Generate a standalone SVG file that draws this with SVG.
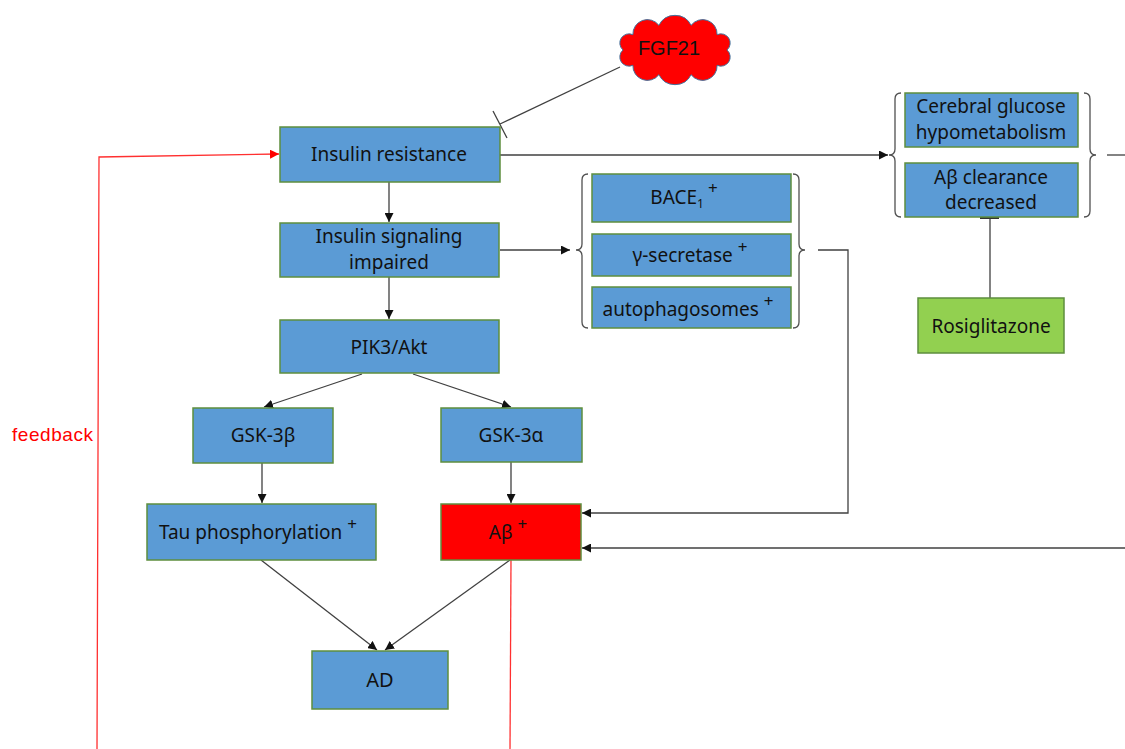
<svg xmlns="http://www.w3.org/2000/svg" width="1125" height="749" viewBox="0 0 1125 749">
<defs>
<style>
.box{fill:#5B9BD5;stroke:#5E8E3E;stroke-width:1.5}
.red{fill:#FF0000;stroke:#5E8E3E;stroke-width:1.5}
.green{fill:#92D050;stroke:#5E8E3E;stroke-width:1.5}
.t{font-family:"Noto Sans","Open Sans","DejaVu Sans",sans-serif;font-size:19px;fill:#111;text-anchor:middle}
.sup{font-size:17px}
.sub{font-size:12px}
.ln{fill:none;stroke:#404040;stroke-width:1.3}
.rl{fill:none;stroke:#FF3030;stroke-width:1.3}
.br{fill:none;stroke:#505050;stroke-width:1.3}
</style>
<marker id="ah" viewBox="0 0 10 10" refX="10" refY="5" markerWidth="9" markerHeight="9" markerUnits="userSpaceOnUse" orient="auto">
<path d="M0,0 L10,5 L0,10 z" fill="#111"/>
</marker>
<marker id="ahr" viewBox="0 0 10 10" refX="10" refY="5" markerWidth="9" markerHeight="9" markerUnits="userSpaceOnUse" orient="auto">
<path d="M0,0 L10,5 L0,10 z" fill="#FF0000"/>
</marker>
</defs>
<rect width="1125" height="749" fill="#FFFFFF"/>

<g id="connectors">
<line class="ln" x1="389" y1="182" x2="389" y2="222" marker-end="url(#ah)"/>
<line class="ln" x1="389" y1="277" x2="389" y2="319" marker-end="url(#ah)"/>
<line class="ln" x1="362" y1="374" x2="264" y2="407" marker-end="url(#ah)"/>
<line class="ln" x1="413" y1="374" x2="511" y2="407" marker-end="url(#ah)"/>
<line class="ln" x1="262" y1="463" x2="262" y2="503" marker-end="url(#ah)"/>
<line class="ln" x1="511" y1="462" x2="511" y2="503" marker-end="url(#ah)"/>
<line class="ln" x1="261" y1="560" x2="377" y2="650" marker-end="url(#ah)"/>
<line class="ln" x1="510" y1="560" x2="385" y2="650" marker-end="url(#ah)"/>
<line class="ln" x1="500" y1="155" x2="888" y2="155" marker-end="url(#ah)"/>
<line class="ln" x1="500" y1="250" x2="570" y2="250" marker-end="url(#ah)"/>
<polyline class="ln" points="818,250 848,250 848,513 582,513" marker-end="url(#ah)"/>
<line class="ln" x1="1125" y1="548" x2="582" y2="548" marker-end="url(#ah)"/>
<line class="ln" x1="1107" y1="155" x2="1125" y2="155"/>
<line class="ln" x1="620" y1="67" x2="500" y2="124"/>
<line class="ln" x1="493" y1="111" x2="507" y2="138"/>
<line class="ln" x1="990" y1="217" x2="990" y2="298"/>
<line x1="980" y1="218" x2="999" y2="218" stroke="#333" stroke-width="2"/>
<polyline class="rl" points="97,749 99,157 279,154" marker-end="url(#ahr)"/>
<line class="rl" x1="511" y1="560" x2="510" y2="749"/>
<path class="br" d="M588,174 Q582,174 582,180 L582,244 Q582,250 576,250 Q582,250 582,256 L582,322 Q582,328 588,328"/>
<path class="br" d="M793,174 Q799,174 799,180 L799,244 Q799,250 805,250 Q799,250 799,256 L799,322 Q799,328 793,328"/>
<path class="br" d="M901,93 Q895,93 895,99 L895,149 Q895,155 889,155 Q895,155 895,161 L895,211 Q895,217 901,217"/>
<path class="br" d="M1084,93 Q1090,93 1090,99 L1090,149 Q1090,155 1096,155 Q1090,155 1090,161 L1090,211 Q1090,217 1084,217"/>
</g>

<g id="fgf21">
<path d="M727,50 A9.2,9.2 0 0 1 717.1,65.3 A14.5,14.5 0 0 1 691.1,74.7 A18,18 0 0 1 658.9,74.7 A14.5,14.5 0 0 1 632.9,65.3 A9.2,9.2 0 0 1 623,50 A9.2,9.2 0 0 1 632.9,34.7 A14.5,14.5 0 0 1 658.9,25.3 A18,18 0 0 1 691.1,25.3 A14.5,14.5 0 0 1 717.1,34.7 A9.2,9.2 0 0 1 727,50 Z" fill="#FF0000" stroke="#41719C" stroke-width="1"/>
<text x="669" y="55" font-family="'Liberation Sans',Arial,sans-serif" font-size="20" text-anchor="middle" fill="#111">FGF21</text>
</g>

<g id="insulin-resistance">
<rect class="box" x="280" y="127" width="220" height="55"/>
<text class="t" x="389" y="161">Insulin resistance</text>
</g>
<g id="insulin-signaling">
<rect class="box" x="280" y="223" width="219" height="54"/>
<text class="t" x="389" y="243">Insulin signaling</text>
<text class="t" x="389" y="269">impaired</text>
</g>
<g id="pik3akt">
<rect class="box" x="280" y="320" width="219" height="53"/>
<text class="t" x="389" y="354">PIK3/Akt</text>
</g>
<g id="gsk3b">
<rect class="box" x="193" y="408" width="140" height="55"/>
<text class="t" x="263" y="442">GSK-3β</text>
</g>
<g id="gsk3a">
<rect class="box" x="441" y="408" width="141" height="54"/>
<text class="t" x="511" y="442">GSK-3α</text>
</g>
<g id="tau">
<rect class="box" x="147" y="504" width="229" height="56"/>
<text class="t" x="258" y="539">Tau phosphorylation<tspan class="sup" dx="5" dy="-9">+</tspan></text>
</g>
<g id="abeta">
<rect class="red" x="441" y="504" width="140" height="56"/>
<text class="t" x="508" y="539">Aβ<tspan class="sup" dx="5" dy="-9">+</tspan></text>
</g>
<g id="ad">
<rect class="box" x="312" y="651" width="136" height="58"/>
<text class="t" x="380" y="687" style="font-size:20px">AD</text>
</g>
<g id="bace1">
<rect class="box" x="592" y="174" width="199" height="48"/>
<text class="t" x="684" y="204">BACE<tspan class="sub" dy="4">1</tspan><tspan class="sup" dx="4" dy="-14">+</tspan></text>
</g>
<g id="gamma-secretase">
<rect class="box" x="592" y="234" width="199" height="42"/>
<text class="t" x="690" y="262">γ-secretase<tspan class="sup" dx="5" dy="-9">+</tspan></text>
</g>
<g id="autophagosomes">
<rect class="box" x="592" y="287" width="199" height="41"/>
<text class="t" x="688" y="316">autophagosomes<tspan class="sup" dx="5" dy="-9">+</tspan></text>
</g>
<g id="cerebral-glucose">
<rect class="box" x="905" y="93" width="173" height="54"/>
<text class="t" x="991" y="113">Cerebral glucose</text>
<text class="t" x="991" y="139">hypometabolism</text>
</g>
<g id="abeta-clearance">
<rect class="box" x="905" y="163" width="173" height="54"/>
<text class="t" x="991" y="184">Aβ clearance</text>
<text class="t" x="991" y="209">decreased</text>
</g>
<g id="rosiglitazone">
<rect class="green" x="918" y="298" width="146" height="55"/>
<text class="t" x="991" y="333">Rosiglitazone</text>
</g>
<g id="feedback-label">
<text x="12" y="441" font-family="'Liberation Sans',Arial,sans-serif" font-size="19" fill="#FF0000" textLength="81">feedback</text>
</g>
</svg>
